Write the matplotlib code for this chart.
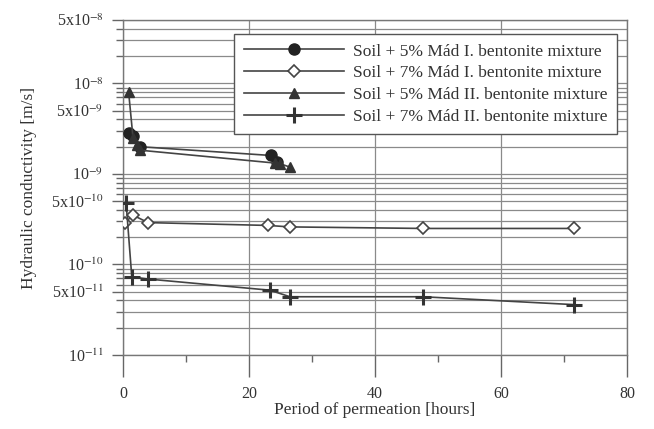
import numpy as np
import matplotlib
matplotlib.use("Agg")
import matplotlib.pyplot as plt
from matplotlib.ticker import FixedLocator, LogLocator, NullFormatter

# data
x_5_mad1 = [1.0, 1.6, 2.7, 23.5, 24.5]
k_5_mad1 = [2.8e-9, 2.6e-9, 2.0e-9, 1.6e-9, 1.35e-9]

x_7_mad1 = [0.3, 1.6, 4.0, 23.0, 26.5, 47.6, 71.6]
k_7_mad1 = [2.9e-10, 3.5e-10, 2.9e-10, 2.7e-10, 2.6e-10, 2.5e-10, 2.5e-10]

x_5_mad2 = [0.9, 1.6, 2.2, 2.7, 24.1, 24.9, 26.5]
k_5_mad2 = [8.0e-9, 2.5e-9, 2.1e-9, 1.83e-9, 1.32e-9, 1.3e-9, 1.19e-9]

x_7_mad2 = [0.5, 1.4, 4.0, 23.3, 26.5, 47.6, 71.6]
k_7_mad2 = [4.8e-10, 7.3e-11, 6.9e-11, 5.2e-11, 4.4e-11, 4.4e-11, 3.6e-11]

labels = ["Soil + 5% Mád I. bentonite mixture",
          "Soil + 7% Mád I. bentonite mixture",
          "Soil + 5% Mád II. bentonite mixture",
          "Soil + 7% Mád II. bentonite mixture"]

ytick_vals = [1e-11, 5e-11, 1e-10, 5e-10, 1e-9, 5e-9, 1e-8, 5e-8]
ytick_lbls = [r"10$^{-11}$", r"5x10$^{-11}$", r"10$^{-10}$", r"5x10$^{-10}$",
              r"10$^{-9}$", r"5x10$^{-9}$", r"10$^{-8}$", r"5x10$^{-8}$"]

plt.rcParams["font.family"] = ["Liberation Serif", "DejaVu Serif"]
plt.rcParams["mathtext.fontset"] = "stix"

fig = plt.figure(figsize=(6.54, 4.29), dpi=100)
ax = fig.add_axes([0.188, 0.1725, 0.771, 0.7805])

lc = "#444444"
ax.plot(x_5_mad1, k_5_mad1, "-", color=lc, lw=1.2, marker="o", ms=8,
        mfc="#222222", mec="#222222", label=labels[0], zorder=3)
ax.plot(x_7_mad1, k_7_mad1, "-", color=lc, lw=1.2, marker="D", ms=6,
        mfc="white", mec="#444444", mew=1.2, label=labels[1], zorder=3)
ax.plot(x_5_mad2, k_5_mad2, "-", color=lc, lw=1.2, marker="^", ms=7,
        mfc="#333333", mec="#333333", label=labels[2], zorder=3)
ax.plot(x_7_mad2, k_7_mad2, "-", color=lc, lw=1.2, marker="+", ms=11,
        mec="#333333", mew=2.2, label=labels[3], zorder=3)

ax.set_yscale("log")
ax.set_ylim(1e-11, 5e-8)
ax.set_xlim(0, 80)

ax.yaxis.set_major_locator(FixedLocator(ytick_vals))
ax.set_yticklabels(ytick_lbls)
ax.yaxis.set_minor_locator(LogLocator(base=10, subs=np.arange(2, 10)))
ax.yaxis.set_minor_formatter(NullFormatter())
ax.set_xticks([0, 20, 40, 60, 80])
ax.set_xticks([10, 30, 50, 70], minor=True)

ax.grid(True, which="both", axis="y", color="#8a8a8a", lw=0.9)
ax.grid(True, which="major", axis="x", color="#8a8a8a", lw=0.9)

ax.tick_params(axis="both", which="major", direction="out", length=8,
               width=1, color="#666666", labelsize=11.5, labelcolor="#333333")
ax.tick_params(axis="both", which="minor", direction="out", length=5,
               width=1, color="#666666")
ax.tick_params(axis="x", which="major", length=16, pad=6)
ax.tick_params(axis="y", pad=6)
for s in ax.spines.values():
    s.set_color("#777777")
    s.set_linewidth(1)

ax.set_xlabel("Period of permeation [hours]", fontsize=12.5, color="#333333",
              labelpad=0)
ax.set_ylabel("Hydraulic conductivity [m/s]", fontsize=12.5, color="#333333",
              labelpad=10)

leg = ax.legend(loc="upper right", bbox_to_anchor=(0.997, 0.985),
                fontsize=12.5, handlelength=5.8, handletextpad=0.5,
                frameon=True, fancybox=False,
                labelspacing=0.32, borderpad=0.55)
leg.get_frame().set_edgecolor("#555555")
leg.get_frame().set_linewidth(1)
leg.get_frame().set_alpha(1)
for t in leg.get_texts():
    t.set_color("#333333")

fig.savefig("out.png", dpi=100)
